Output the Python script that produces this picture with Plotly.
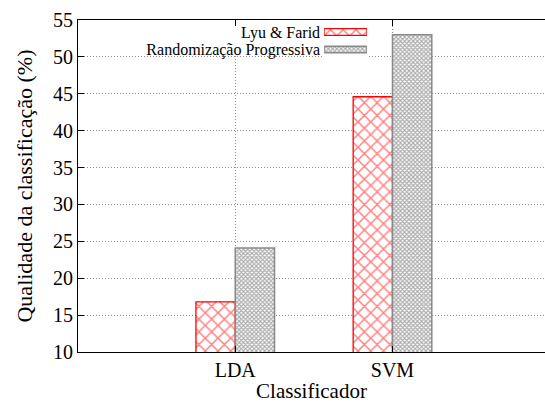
import plotly.graph_objects as go

categories = ["LDA", "SVM"]
series_names = ["Lyu & Farid", "Randomização Progressiva"]
lyu_farid = [16.8, 44.6]
randomizacao = [24.1, 53.0]
y_ticks = [10, 15, 20, 25, 30, 35, 40, 45, 50, 55]

FONT = "Liberation Serif"
red_marker = dict(color="white", line=dict(color="red", width=1.3),
                  pattern=dict(shape="x", fgcolor="red", bgcolor="white", size=9, solidity=0.3))
gray_marker = dict(color="white", line=dict(color="#8a8a8a", width=1.5),
                   pattern=dict(shape="x", fgcolor="#555555", bgcolor="white", size=3, solidity=0.6))

fig = go.Figure()
fig.add_trace(go.Bar(x=categories, y=lyu_farid, name=series_names[0], marker=red_marker, showlegend=False))
fig.add_trace(go.Bar(x=categories, y=randomizacao, name=series_names[1], marker=gray_marker, showlegend=False))

# legend swatches (gnuplot-style key: text on the left, sample on the right)
fig.add_trace(go.Bar(y=[series_names[0]], x=[1], orientation="h", width=0.38, marker=red_marker,
                     xaxis="x2", yaxis="y2", showlegend=False, hoverinfo="skip"))
fig.add_trace(go.Bar(y=[series_names[1]], x=[1], orientation="h", width=0.38, marker=gray_marker,
                     xaxis="x2", yaxis="y2", showlegend=False, hoverinfo="skip"))

# opaque key background (hides grid lines behind the key text)
fig.add_shape(type="rect", xref="x", yref="y", x0=-0.65, x1=0.87, y0=50.4, y1=55,
              fillcolor="white", line=dict(width=0), layer="between")

GRID = dict(showgrid=True, gridcolor="#8c8c8c", griddash="1px,2px", gridwidth=1)

fig.update_layout(
    width=545, height=403,
    margin=dict(l=78, r=0, t=20, b=51),
    paper_bgcolor="white", plot_bgcolor="white",
    font=dict(family=FONT, color="black", size=20),
    barmode="group", bargap=0.5, bargroupgap=0,
    xaxis=dict(
        type="category", range=[-1, 1.97], automargin=False,
        tickmode="array", tickvals=categories, ticktext=categories,
        showline=True, linecolor="black", linewidth=1.2, mirror="ticks",
        ticks="inside", ticklen=6, tickcolor="black",
        tickfont=dict(size=20, family=FONT),
        title=dict(text="Classificador", font=dict(size=21, family=FONT), standoff=3),
        zeroline=False, **GRID,
    ),
    yaxis=dict(
        range=[10, 55], tickvals=y_ticks, automargin=False,
        showline=True, linecolor="black", linewidth=1.2, mirror=False,
        ticks="inside", ticklen=6, tickcolor="black",
        tickfont=dict(size=20, family=FONT),
        title=dict(text="Qualidade da classificação (%)", font=dict(size=22, family=FONT), standoff=14),
        zeroline=False, **GRID,
    ),
    xaxis2=dict(domain=[0.527, 0.619], range=[0, 1], anchor="y2", visible=False, fixedrange=True),
    yaxis2=dict(domain=[0.885, 0.99], anchor="x2", type="category",
                categoryorder="array", categoryarray=[series_names[1], series_names[0]],
                tickmode="array", tickvals=series_names, ticktext=series_names,
                range=[-0.5, 1.5], showline=False, showgrid=False, ticks="", automargin=False,
                tickfont=dict(size=16, family=FONT), ticklabelstandoff=3, zeroline=False),
)

fig.write_html("out.html", config={"displayModeBar": False},
               post_script="document.body.style.margin='0';document.body.style.overflow='hidden';"
                           "document.documentElement.style.overflow='hidden';")
